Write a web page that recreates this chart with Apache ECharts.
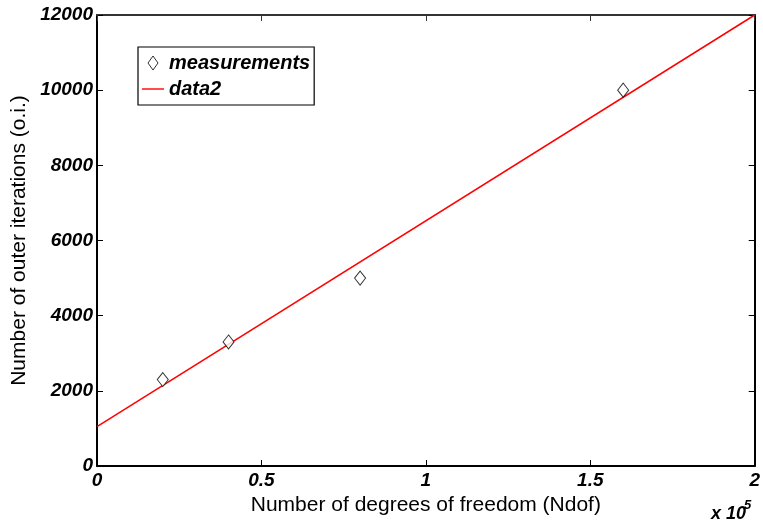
<!DOCTYPE html>
<html>
<head>
<meta charset="utf-8">
<script src="https://cdn.jsdelivr.net/npm/echarts@6/dist/echarts.min.js"></script>
<style>
  html, body { margin: 0; padding: 0; background: #fff; }
  #chart { width: 763px; height: 525px; }
</style>
</head>
<body>
<div id="chart"></div>
<script>
// Measured iteration counts against problem size
const ndof = [20000, 40000, 80000, 160000];
const iterations = [2300, 3300, 5000, 10000];

// Straight-line trend ("data2") end points
const trendX = [0, 200000];
const trendY = [1050, 12000];

const FONT = '"Liberation Sans", Arial, sans-serif';

const chart = echarts.init(document.getElementById('chart'));

const tickLabel = {
  fontFamily: FONT, fontSize: 19, fontWeight: 'bold', fontStyle: 'italic', color: '#000'
};

chart.setOption({
  animation: false,
  backgroundColor: '#fff',
  grid: { left: 97, right: 7, top: 15, bottom: 59, containLabel: false },
  legend: {
    orient: 'vertical',
    left: 138, top: 47,
    padding: [6, 4, 6, 4],
    itemGap: 6,
    itemWidth: 22, itemHeight: 14,
    borderColor: '#000', borderWidth: 1.2,
    backgroundColor: '#fff',
    textStyle: { fontFamily: FONT, fontSize: 20, fontWeight: 'bold', fontStyle: 'italic', color: '#000', padding: [0, 0, 0, 0] },
    data: [
      { name: 'measurements', icon: 'path://M5,0L10,7L5,14L0,7Z',
        itemStyle: { color: '#fff', borderColor: '#000', borderWidth: 1 } },
      { name: 'data2', icon: 'path://M0,0L22,0L22,1.4L0,1.4Z',
        itemStyle: { color: '#ff0000', borderWidth: 0 } }
    ]
  },
  xAxis: [{
    type: 'value', min: 0, max: 200000, interval: 50000,
    position: 'bottom',
    name: 'Number of degrees of freedom (Ndof)',
    nameLocation: 'middle', nameGap: 17,
    nameTextStyle: { fontFamily: FONT, fontSize: 21, color: '#000' },
    axisLine: { show: true, lineStyle: { color: '#000', width: 2 } },
    axisTick: { show: true, inside: true, length: 6, lineStyle: { color: '#000', width: 1 } },
    axisLabel: Object.assign({ margin: 5, formatter: v => String(v / 100000) }, tickLabel),
    splitLine: { show: false }
  }, {
    type: 'value', min: 0, max: 200000, interval: 50000,
    position: 'top',
    axisLine: { show: true, onZero: false, lineStyle: { color: '#333', width: 2 } },
    axisTick: { show: true, inside: true, length: 6, lineStyle: { color: '#333', width: 1 } },
    axisLabel: { show: false },
    splitLine: { show: false }
  }],
  yAxis: [{
    type: 'value', min: 0, max: 12000, interval: 2000,
    position: 'left',
    name: 'Number of outer iterations (o.i.)',
    nameLocation: 'middle', nameGap: 64, nameRotate: 90,
    nameTextStyle: { fontFamily: FONT, fontSize: 21, color: '#000' },
    axisLine: { show: true, lineStyle: { color: '#000', width: 2 } },
    axisTick: { show: true, inside: true, length: 6, lineStyle: { color: '#000', width: 1 } },
    axisLabel: Object.assign({ margin: 4, formatter: v => String(v) }, tickLabel),
    splitLine: { show: false }
  }, {
    type: 'value', min: 0, max: 12000, interval: 2000,
    position: 'right',
    axisLine: { show: true, onZero: false, lineStyle: { color: '#000', width: 2 } },
    axisTick: { show: true, inside: true, length: 6, lineStyle: { color: '#000', width: 1 } },
    axisLabel: { show: false },
    splitLine: { show: false }
  }],
  graphic: [{
    type: 'text',
    left: 711, top: 499,
    style: {
      text: '{b|x 10}{s|5}',
      rich: {
        b: { fontFamily: FONT, fontSize: 18, fontWeight: 'bold', fontStyle: 'italic', fill: '#000', padding: [9, 0, 0, 0] },
        s: { fontFamily: FONT, fontSize: 13, fontWeight: 'bold', fontStyle: 'italic', fill: '#000', padding: [0, 0, 9, -2] }
      }
    }
  }],
  series: [{
    name: 'measurements',
    type: 'scatter',
    xAxisIndex: 0, yAxisIndex: 0,
    symbol: 'diamond',
    symbolSize: [11, 14],
    itemStyle: { color: '#fff', borderColor: '#000', borderWidth: 1 },
    data: ndof.map((x, i) => [x, iterations[i]]),
    z: 3
  }, {
    name: 'data2',
    type: 'line',
    xAxisIndex: 0, yAxisIndex: 0,
    symbol: 'none',
    lineStyle: { color: '#ff0000', width: 1.5 },
    itemStyle: { color: '#ff0000' },
    data: trendX.map((x, i) => [x, trendY[i]]),
    z: 2
  }]
});
</script>
</body>
</html>
